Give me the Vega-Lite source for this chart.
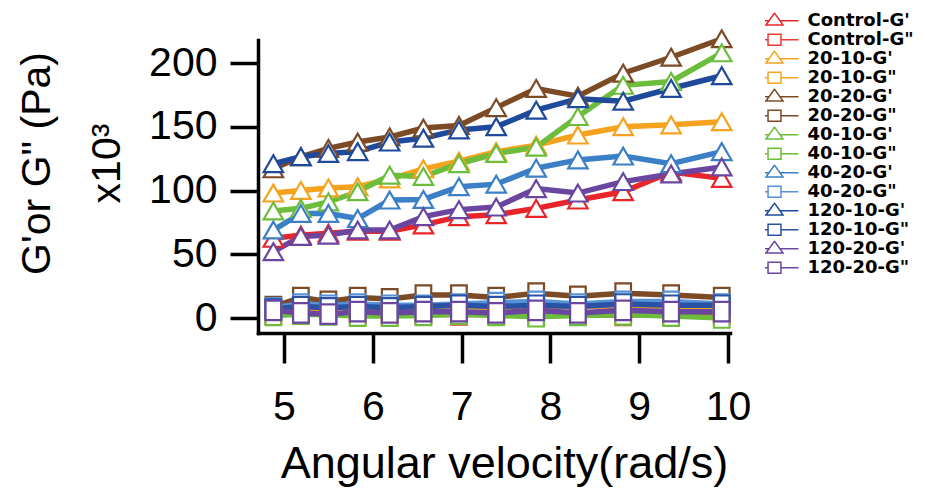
{
  "$schema": "https://vega.github.io/schema/vega-lite/v6.json",
  "width": 472,
  "height": 293,
  "autosize": {"type": "none"},
  "padding": {"left": 258, "top": 40, "right": 195, "bottom": 156},
  "background": "white",
  "config": {"view": {"stroke": null}, "font": "Liberation Sans"},
  "datasets": {
    "rheo": [
      {"series": "Control-G'", "modulus": "G'", "x": 4.88, "y": 62.5},
      {"series": "Control-G'", "modulus": "G'", "x": 5.19, "y": 65},
      {"series": "Control-G'", "modulus": "G'", "x": 5.50, "y": 66.5},
      {"series": "Control-G'", "modulus": "G'", "x": 5.83, "y": 68},
      {"series": "Control-G'", "modulus": "G'", "x": 6.19, "y": 68},
      {"series": "Control-G'", "modulus": "G'", "x": 6.57, "y": 73},
      {"series": "Control-G'", "modulus": "G'", "x": 6.97, "y": 79.5},
      {"series": "Control-G'", "modulus": "G'", "x": 7.39, "y": 81},
      {"series": "Control-G'", "modulus": "G'", "x": 7.84, "y": 86},
      {"series": "Control-G'", "modulus": "G'", "x": 8.31, "y": 92.5},
      {"series": "Control-G'", "modulus": "G'", "x": 8.82, "y": 99},
      {"series": "Control-G'", "modulus": "G'", "x": 9.36, "y": 114.5},
      {"series": "Control-G'", "modulus": "G'", "x": 9.93, "y": 109.5},
      {"series": "Control-G\"", "modulus": "G\"", "x": 4.88, "y": 3},
      {"series": "Control-G\"", "modulus": "G\"", "x": 5.19, "y": 4},
      {"series": "Control-G\"", "modulus": "G\"", "x": 5.50, "y": 3.5},
      {"series": "Control-G\"", "modulus": "G\"", "x": 5.83, "y": 3},
      {"series": "Control-G\"", "modulus": "G\"", "x": 6.19, "y": 2.5},
      {"series": "Control-G\"", "modulus": "G\"", "x": 6.57, "y": 3},
      {"series": "Control-G\"", "modulus": "G\"", "x": 6.97, "y": 2.5},
      {"series": "Control-G\"", "modulus": "G\"", "x": 7.39, "y": 3},
      {"series": "Control-G\"", "modulus": "G\"", "x": 7.84, "y": 2.5},
      {"series": "Control-G\"", "modulus": "G\"", "x": 8.31, "y": 2.5},
      {"series": "Control-G\"", "modulus": "G\"", "x": 8.82, "y": 2},
      {"series": "Control-G\"", "modulus": "G\"", "x": 9.36, "y": 3},
      {"series": "Control-G\"", "modulus": "G\"", "x": 9.93, "y": 3},
      {"series": "20-10-G'", "modulus": "G'", "x": 4.88, "y": 98},
      {"series": "20-10-G'", "modulus": "G'", "x": 5.19, "y": 100},
      {"series": "20-10-G'", "modulus": "G'", "x": 5.50, "y": 102},
      {"series": "20-10-G'", "modulus": "G'", "x": 5.83, "y": 103},
      {"series": "20-10-G'", "modulus": "G'", "x": 6.19, "y": 109},
      {"series": "20-10-G'", "modulus": "G'", "x": 6.57, "y": 117},
      {"series": "20-10-G'", "modulus": "G'", "x": 6.97, "y": 123},
      {"series": "20-10-G'", "modulus": "G'", "x": 7.39, "y": 130.5},
      {"series": "20-10-G'", "modulus": "G'", "x": 7.84, "y": 135.5},
      {"series": "20-10-G'", "modulus": "G'", "x": 8.31, "y": 143.5},
      {"series": "20-10-G'", "modulus": "G'", "x": 8.82, "y": 150},
      {"series": "20-10-G'", "modulus": "G'", "x": 9.36, "y": 151.5},
      {"series": "20-10-G'", "modulus": "G'", "x": 9.93, "y": 154},
      {"series": "20-10-G\"", "modulus": "G\"", "x": 4.88, "y": 6},
      {"series": "20-10-G\"", "modulus": "G\"", "x": 5.19, "y": 7},
      {"series": "20-10-G\"", "modulus": "G\"", "x": 5.50, "y": 6.5},
      {"series": "20-10-G\"", "modulus": "G\"", "x": 5.83, "y": 7},
      {"series": "20-10-G\"", "modulus": "G\"", "x": 6.19, "y": 7},
      {"series": "20-10-G\"", "modulus": "G\"", "x": 6.57, "y": 8},
      {"series": "20-10-G\"", "modulus": "G\"", "x": 6.97, "y": 9},
      {"series": "20-10-G\"", "modulus": "G\"", "x": 7.39, "y": 8},
      {"series": "20-10-G\"", "modulus": "G\"", "x": 7.84, "y": 8},
      {"series": "20-10-G\"", "modulus": "G\"", "x": 8.31, "y": 9},
      {"series": "20-10-G\"", "modulus": "G\"", "x": 8.82, "y": 9},
      {"series": "20-10-G\"", "modulus": "G\"", "x": 9.36, "y": 8},
      {"series": "20-10-G\"", "modulus": "G\"", "x": 9.93, "y": 8},
      {"series": "20-20-G'", "modulus": "G'", "x": 4.88, "y": 117},
      {"series": "20-20-G'", "modulus": "G'", "x": 5.19, "y": 126.5},
      {"series": "20-20-G'", "modulus": "G'", "x": 5.50, "y": 133},
      {"series": "20-20-G'", "modulus": "G'", "x": 5.83, "y": 138},
      {"series": "20-20-G'", "modulus": "G'", "x": 6.19, "y": 142},
      {"series": "20-20-G'", "modulus": "G'", "x": 6.57, "y": 149},
      {"series": "20-20-G'", "modulus": "G'", "x": 6.97, "y": 151},
      {"series": "20-20-G'", "modulus": "G'", "x": 7.39, "y": 165},
      {"series": "20-20-G'", "modulus": "G'", "x": 7.84, "y": 180},
      {"series": "20-20-G'", "modulus": "G'", "x": 8.31, "y": 174},
      {"series": "20-20-G'", "modulus": "G'", "x": 8.82, "y": 192},
      {"series": "20-20-G'", "modulus": "G'", "x": 9.36, "y": 204.5},
      {"series": "20-20-G'", "modulus": "G'", "x": 9.93, "y": 219},
      {"series": "20-20-G\"", "modulus": "G\"", "x": 4.88, "y": 9},
      {"series": "20-20-G\"", "modulus": "G\"", "x": 5.19, "y": 16},
      {"series": "20-20-G\"", "modulus": "G\"", "x": 5.50, "y": 13},
      {"series": "20-20-G\"", "modulus": "G\"", "x": 5.83, "y": 16},
      {"series": "20-20-G\"", "modulus": "G\"", "x": 6.19, "y": 15},
      {"series": "20-20-G\"", "modulus": "G\"", "x": 6.57, "y": 18},
      {"series": "20-20-G\"", "modulus": "G\"", "x": 6.97, "y": 18},
      {"series": "20-20-G\"", "modulus": "G\"", "x": 7.39, "y": 16},
      {"series": "20-20-G\"", "modulus": "G\"", "x": 7.84, "y": 19.5},
      {"series": "20-20-G\"", "modulus": "G\"", "x": 8.31, "y": 17},
      {"series": "20-20-G\"", "modulus": "G\"", "x": 8.82, "y": 19.5},
      {"series": "20-20-G\"", "modulus": "G\"", "x": 9.36, "y": 18},
      {"series": "20-20-G\"", "modulus": "G\"", "x": 9.93, "y": 16},
      {"series": "40-10-G'", "modulus": "G'", "x": 4.88, "y": 84},
      {"series": "40-10-G'", "modulus": "G'", "x": 5.19, "y": 86},
      {"series": "40-10-G'", "modulus": "G'", "x": 5.50, "y": 91},
      {"series": "40-10-G'", "modulus": "G'", "x": 5.83, "y": 99},
      {"series": "40-10-G'", "modulus": "G'", "x": 6.19, "y": 112},
      {"series": "40-10-G'", "modulus": "G'", "x": 6.57, "y": 111},
      {"series": "40-10-G'", "modulus": "G'", "x": 6.97, "y": 121},
      {"series": "40-10-G'", "modulus": "G'", "x": 7.39, "y": 129},
      {"series": "40-10-G'", "modulus": "G'", "x": 7.84, "y": 134},
      {"series": "40-10-G'", "modulus": "G'", "x": 8.31, "y": 158},
      {"series": "40-10-G'", "modulus": "G'", "x": 8.82, "y": 182.5},
      {"series": "40-10-G'", "modulus": "G'", "x": 9.36, "y": 185.5},
      {"series": "40-10-G'", "modulus": "G'", "x": 9.93, "y": 208},
      {"series": "40-10-G\"", "modulus": "G\"", "x": 4.88, "y": 2},
      {"series": "40-10-G\"", "modulus": "G\"", "x": 5.19, "y": 3},
      {"series": "40-10-G\"", "modulus": "G\"", "x": 5.50, "y": 2.5},
      {"series": "40-10-G\"", "modulus": "G\"", "x": 5.83, "y": 1.5},
      {"series": "40-10-G\"", "modulus": "G\"", "x": 6.19, "y": 1.5},
      {"series": "40-10-G\"", "modulus": "G\"", "x": 6.57, "y": 2},
      {"series": "40-10-G\"", "modulus": "G\"", "x": 6.97, "y": 3},
      {"series": "40-10-G\"", "modulus": "G\"", "x": 7.39, "y": 2},
      {"series": "40-10-G\"", "modulus": "G\"", "x": 7.84, "y": 1},
      {"series": "40-10-G\"", "modulus": "G\"", "x": 8.31, "y": 2},
      {"series": "40-10-G\"", "modulus": "G\"", "x": 8.82, "y": 2.5},
      {"series": "40-10-G\"", "modulus": "G\"", "x": 9.36, "y": 1.5},
      {"series": "40-10-G\"", "modulus": "G\"", "x": 9.93, "y": 0},
      {"series": "40-20-G'", "modulus": "G'", "x": 4.88, "y": 69},
      {"series": "40-20-G'", "modulus": "G'", "x": 5.19, "y": 82},
      {"series": "40-20-G'", "modulus": "G'", "x": 5.50, "y": 82},
      {"series": "40-20-G'", "modulus": "G'", "x": 5.83, "y": 78},
      {"series": "40-20-G'", "modulus": "G'", "x": 6.19, "y": 92.5},
      {"series": "40-20-G'", "modulus": "G'", "x": 6.57, "y": 93},
      {"series": "40-20-G'", "modulus": "G'", "x": 6.97, "y": 103},
      {"series": "40-20-G'", "modulus": "G'", "x": 7.39, "y": 105},
      {"series": "40-20-G'", "modulus": "G'", "x": 7.84, "y": 117.5},
      {"series": "40-20-G'", "modulus": "G'", "x": 8.31, "y": 124},
      {"series": "40-20-G'", "modulus": "G'", "x": 8.82, "y": 127},
      {"series": "40-20-G'", "modulus": "G'", "x": 9.36, "y": 121},
      {"series": "40-20-G'", "modulus": "G'", "x": 9.93, "y": 130.5},
      {"series": "40-20-G\"", "modulus": "G\"", "x": 4.88, "y": 8},
      {"series": "40-20-G\"", "modulus": "G\"", "x": 5.19, "y": 11},
      {"series": "40-20-G\"", "modulus": "G\"", "x": 5.50, "y": 10},
      {"series": "40-20-G\"", "modulus": "G\"", "x": 5.83, "y": 11},
      {"series": "40-20-G\"", "modulus": "G\"", "x": 6.19, "y": 10},
      {"series": "40-20-G\"", "modulus": "G\"", "x": 6.57, "y": 10},
      {"series": "40-20-G\"", "modulus": "G\"", "x": 6.97, "y": 11},
      {"series": "40-20-G\"", "modulus": "G\"", "x": 7.39, "y": 12},
      {"series": "40-20-G\"", "modulus": "G\"", "x": 7.84, "y": 13},
      {"series": "40-20-G\"", "modulus": "G\"", "x": 8.31, "y": 11},
      {"series": "40-20-G\"", "modulus": "G\"", "x": 8.82, "y": 13},
      {"series": "40-20-G\"", "modulus": "G\"", "x": 9.36, "y": 13},
      {"series": "40-20-G\"", "modulus": "G\"", "x": 9.93, "y": 11},
      {"series": "120-10-G'", "modulus": "G'", "x": 4.88, "y": 121},
      {"series": "120-10-G'", "modulus": "G'", "x": 5.19, "y": 126.5},
      {"series": "120-10-G'", "modulus": "G'", "x": 5.50, "y": 129},
      {"series": "120-10-G'", "modulus": "G'", "x": 5.83, "y": 130.5},
      {"series": "120-10-G'", "modulus": "G'", "x": 6.19, "y": 138},
      {"series": "120-10-G'", "modulus": "G'", "x": 6.57, "y": 141},
      {"series": "120-10-G'", "modulus": "G'", "x": 6.97, "y": 147.5},
      {"series": "120-10-G'", "modulus": "G'", "x": 7.39, "y": 150},
      {"series": "120-10-G'", "modulus": "G'", "x": 7.84, "y": 163},
      {"series": "120-10-G'", "modulus": "G'", "x": 8.31, "y": 172},
      {"series": "120-10-G'", "modulus": "G'", "x": 8.82, "y": 170},
      {"series": "120-10-G'", "modulus": "G'", "x": 9.36, "y": 180},
      {"series": "120-10-G'", "modulus": "G'", "x": 9.93, "y": 190},
      {"series": "120-10-G\"", "modulus": "G\"", "x": 4.88, "y": 7},
      {"series": "120-10-G\"", "modulus": "G\"", "x": 5.19, "y": 9},
      {"series": "120-10-G\"", "modulus": "G\"", "x": 5.50, "y": 8},
      {"series": "120-10-G\"", "modulus": "G\"", "x": 5.83, "y": 9},
      {"series": "120-10-G\"", "modulus": "G\"", "x": 6.19, "y": 8},
      {"series": "120-10-G\"", "modulus": "G\"", "x": 6.57, "y": 9},
      {"series": "120-10-G\"", "modulus": "G\"", "x": 6.97, "y": 10},
      {"series": "120-10-G\"", "modulus": "G\"", "x": 7.39, "y": 9},
      {"series": "120-10-G\"", "modulus": "G\"", "x": 7.84, "y": 10},
      {"series": "120-10-G\"", "modulus": "G\"", "x": 8.31, "y": 9},
      {"series": "120-10-G\"", "modulus": "G\"", "x": 8.82, "y": 11},
      {"series": "120-10-G\"", "modulus": "G\"", "x": 9.36, "y": 10},
      {"series": "120-10-G\"", "modulus": "G\"", "x": 9.93, "y": 10},
      {"series": "120-20-G'", "modulus": "G'", "x": 4.88, "y": 52},
      {"series": "120-20-G'", "modulus": "G'", "x": 5.19, "y": 64},
      {"series": "120-20-G'", "modulus": "G'", "x": 5.50, "y": 65},
      {"series": "120-20-G'", "modulus": "G'", "x": 5.83, "y": 69},
      {"series": "120-20-G'", "modulus": "G'", "x": 6.19, "y": 69},
      {"series": "120-20-G'", "modulus": "G'", "x": 6.57, "y": 79.5},
      {"series": "120-20-G'", "modulus": "G'", "x": 6.97, "y": 85},
      {"series": "120-20-G'", "modulus": "G'", "x": 7.39, "y": 87},
      {"series": "120-20-G'", "modulus": "G'", "x": 7.84, "y": 101.5},
      {"series": "120-20-G'", "modulus": "G'", "x": 8.31, "y": 98},
      {"series": "120-20-G'", "modulus": "G'", "x": 8.82, "y": 107},
      {"series": "120-20-G'", "modulus": "G'", "x": 9.36, "y": 113},
      {"series": "120-20-G'", "modulus": "G'", "x": 9.93, "y": 118.5},
      {"series": "120-20-G\"", "modulus": "G\"", "x": 4.88, "y": 6},
      {"series": "120-20-G\"", "modulus": "G\"", "x": 5.19, "y": 4},
      {"series": "120-20-G\"", "modulus": "G\"", "x": 5.50, "y": 3},
      {"series": "120-20-G\"", "modulus": "G\"", "x": 5.83, "y": 5},
      {"series": "120-20-G\"", "modulus": "G\"", "x": 6.19, "y": 4},
      {"series": "120-20-G\"", "modulus": "G\"", "x": 6.57, "y": 5},
      {"series": "120-20-G\"", "modulus": "G\"", "x": 6.97, "y": 5},
      {"series": "120-20-G\"", "modulus": "G\"", "x": 7.39, "y": 4},
      {"series": "120-20-G\"", "modulus": "G\"", "x": 7.84, "y": 6},
      {"series": "120-20-G\"", "modulus": "G\"", "x": 8.31, "y": 4},
      {"series": "120-20-G\"", "modulus": "G\"", "x": 8.82, "y": 6},
      {"series": "120-20-G\"", "modulus": "G\"", "x": 9.36, "y": 5},
      {"series": "120-20-G\"", "modulus": "G\"", "x": 9.93, "y": 5}
    ]
  },
  "data": {"name": "rheo"},
  "encoding": {
    "x": {
      "field": "x", "type": "quantitative",
      "scale": {"domain": [4.707, 10.023], "nice": false, "zero": false},
      "axis": {
        "values": [5, 6, 7, 8, 9, 10], "format": "d", "grid": false,
        "domainWidth": 3.5, "domainColor": "black", "domainCap": "square",
        "tickWidth": 3.5, "tickColor": "black", "tickSize": 30,
        "labelFont": "Liberation Sans", "labelFontSize": 41, "labelColor": "black", "labelPadding": 24,
        "labelFlush": false, "labelOverlap": false,
        "title": "Angular velocity(rad/s)",
        "titleFont": "Liberation Sans", "titleFontSize": 45, "titleFontWeight": "normal", "titleColor": "black",
        "titleX": 246, "titleY": 144, "titleAlign": "center", "titleBaseline": "alphabetic", "titleAngle": 0
      }
    },
    "y": {
      "field": "y", "type": "quantitative",
      "scale": {"domain": [-11.76, 218.04], "nice": false, "zero": false},
      "axis": {
        "values": [0, 50, 100, 150, 200], "grid": false,
        "domainWidth": 3.5, "domainColor": "black", "domainCap": "square",
        "tickWidth": 3.5, "tickColor": "black", "tickSize": 28,
        "labelFont": "Liberation Sans", "labelFontSize": 41, "labelColor": "black", "labelPadding": 13,
        "labelFlush": false, "labelOverlap": false,
        "title": ["G'or G\" (Pa)", "x10³\u00a0\u00a0\u00a0\u00a0"],
        "titleFont": "Liberation Sans", "titleFontSize": 41, "titleFontWeight": "normal", "titleColor": "black",
        "titleAngle": -90, "titleAlign": "center", "titleBaseline": "middle", "titleLineHeight": 70,
        "titleX": -221, "titleY": 123
      }
    },
    "color": {
      "field": "series", "type": "nominal",
      "scale": {
        "domain": ["Control-G'", "Control-G\"", "20-10-G'", "20-10-G\"", "20-20-G'", "20-20-G\"", "40-10-G'", "40-10-G\"", "40-20-G'", "40-20-G\"", "120-10-G'", "120-10-G\"", "120-20-G'", "120-20-G\""],
        "range": ["#e8262a", "#ec3a30", "#f5a31f", "#f7a51c", "#7d4a26", "#7d4a26", "#6cbd3b", "#6cbd3b", "#3b7fc6", "#5592d8", "#1f4a9c", "#2a52a4", "#6b46a0", "#6b46a0"]
      },
      "legend": {
        "orient": "none", "legendX": 507, "legendY": -27.5, "title": null, "padding": 0,
        "symbolSize": 289, "symbolStrokeWidth": 1.5, "rowPadding": 0, "clipHeight": 16.5,
        "labelFont": "DejaVu Sans", "labelFontSize": 18, "labelFontWeight": "bold", "labelColor": "black", "labelOffset": 23.5, "labelLimit": 300,
        "encode": {
          "symbols": {
            "update": {
              "shape": {"signal": "slice(datum.value,-1)=='\"' ? 'M-2.82,0L-0.76,0M0.76,0L2.82,0M-0.76,-0.65L0.76,-0.65L0.76,0.65L-0.76,0.65Z' : 'M-2.82,0L-0.64,0M0.64,0L2.82,0M0,-0.9L1,0.5L-1,0.5Z'"},
              "fill": {"value": "white"},
              "fillOpacity": {"value": 1},
              "stroke": {"scale": "color", "field": "value"},
              "strokeWidth": {"value": 1.5},
              "opacity": {"value": 1}
            }
          }
        }
      }
    }
  },
  "layer": [
    {"mark": {"type": "line", "strokeWidth": 5.5}},
    {
      "mark": {"type": "point", "filled": false, "fill": "white", "fillOpacity": 1, "strokeWidth": 2.2, "opacity": 1},
      "encoding": {
        "shape": {
          "field": "modulus", "type": "nominal",
          "scale": {"domain": ["G'", "G\""], "range": ["triangle-up", "M-0.8,-1L0.8,-1L0.8,1L-0.8,1Z"]},
          "legend": null
        },
        "size": {"value": 380}
      }
    }
  ]
}
